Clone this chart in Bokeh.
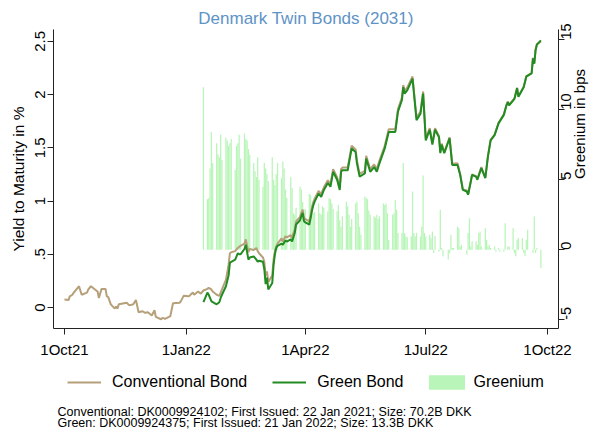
import math
import pandas as pd
from bokeh.plotting import figure
from bokeh.layouts import column
from bokeh.models import Range1d, LinearAxis, FixedTicker, Legend, LegendItem, Label
from bokeh.embed import file_html
from bokeh.resources import INLINE

FONT = "Liberation Sans"

# ---------------- data ----------------
early_conv_dates = [
    "2021-10-01", "2021-10-04", "2021-10-05", "2021-10-07", "2021-10-08", "2021-10-12",
    "2021-10-14", "2021-10-18", "2021-10-19", "2021-10-21", "2021-10-25", "2021-10-26",
    "2021-10-27", "2021-10-29", "2021-11-01", "2021-11-02", "2021-11-03", "2021-11-05",
    "2021-11-08", "2021-11-09", "2021-11-10", "2021-11-11", "2021-11-15", "2021-11-17",
    "2021-11-19", "2021-11-22", "2021-11-24", "2021-11-26", "2021-11-29", "2021-12-01",
    "2021-12-03", "2021-12-06", "2021-12-08", "2021-12-09", "2021-12-13", "2021-12-14",
    "2021-12-16", "2021-12-20", "2021-12-22", "2021-12-27", "2021-12-28", "2021-12-30",
    "2022-01-03", "2022-01-05", "2022-01-06", "2022-01-07", "2022-01-10", "2022-01-12",
]
early_conv_yield = [
    0.075, 0.07, 0.105, 0.12, 0.14, 0.20,
    0.12, 0.14, 0.17, 0.20, 0.16, 0.15,
    0.09, 0.175, 0.175, 0.105, 0.10, 0.03,
    -0.01, 0.01, -0.01, 0.03, 0.04, 0.045,
    0.02, 0.03, 0.07, -0.045, -0.035, -0.05,
    -0.045, -0.075, -0.025, -0.087, -0.11, -0.097,
    -0.106, -0.08, 0.04, 0.045, 0.06, 0.11,
    0.105, 0.13, 0.14, 0.12, 0.15, 0.13,
]

twin_dates = [
    "2022-01-14", "2022-01-17", "2022-01-18", "2022-01-20", "2022-01-21", "2022-01-24",
    "2022-01-26", "2022-01-27", "2022-01-28", "2022-01-31", "2022-02-02", "2022-02-03",
    "2022-02-04", "2022-02-07", "2022-02-09", "2022-02-10", "2022-02-11", "2022-02-14",
    "2022-02-15", "2022-02-17", "2022-02-18", "2022-02-21", "2022-02-23", "2022-02-24",
    "2022-02-25", "2022-02-28", "2022-03-01", "2022-03-02", "2022-03-03", "2022-03-04",
    "2022-03-07", "2022-03-08", "2022-03-09", "2022-03-10", "2022-03-11", "2022-03-14",
    "2022-03-15", "2022-03-17", "2022-03-18", "2022-03-21", "2022-03-22", "2022-03-23",
    "2022-03-24", "2022-03-25", "2022-03-28", "2022-03-29", "2022-03-30", "2022-03-31",
    "2022-04-01", "2022-04-04", "2022-04-05", "2022-04-06", "2022-04-07", "2022-04-08",
    "2022-04-11", "2022-04-13", "2022-04-15", "2022-04-18", "2022-04-20", "2022-04-22",
    "2022-04-25", "2022-04-27", "2022-04-28", "2022-04-29", "2022-05-03", "2022-05-06",
    "2022-05-09", "2022-05-10", "2022-05-12", "2022-05-16", "2022-05-17", "2022-05-20",
    "2022-05-23", "2022-05-25", "2022-05-27", "2022-05-31", "2022-06-03", "2022-06-08",
    "2022-06-10", "2022-06-13", "2022-06-14", "2022-06-15", "2022-06-17", "2022-06-21",
    "2022-06-24", "2022-06-27", "2022-06-29", "2022-07-01", "2022-07-04", "2022-07-06",
    "2022-07-08", "2022-07-11", "2022-07-12", "2022-07-13", "2022-07-15", "2022-07-19",
    "2022-07-21", "2022-07-25", "2022-07-27", "2022-07-29", "2022-08-01", "2022-08-02",
    "2022-08-04", "2022-08-05", "2022-08-08", "2022-08-09", "2022-08-12", "2022-08-15",
    "2022-08-17", "2022-08-19", "2022-08-22", "2022-08-25", "2022-08-29", "2022-08-31",
    "2022-09-01", "2022-09-02", "2022-09-06", "2022-09-08", "2022-09-09", "2022-09-13",
    "2022-09-15", "2022-09-19", "2022-09-20", "2022-09-21", "2022-09-22", "2022-09-23",
    "2022-09-26",
]
late_conv_yield = [
    0.16, 0.175, 0.185, 0.17, 0.15, 0.12,
    0.11, 0.14, 0.17, 0.26, 0.40, 0.51,
    0.52, 0.53, 0.56, 0.57, 0.58, 0.60,
    0.64, 0.52, 0.55, 0.54, 0.56, 0.53,
    0.51, 0.47, 0.43, 0.30, 0.34, 0.24,
    0.30, 0.45, 0.53, 0.575, 0.60, 0.65,
    0.62, 0.67, 0.66, 0.68, 0.65, 0.70,
    0.73, 0.81, 0.85, 0.89, 0.92, 0.84,
    0.83, 0.81, 0.87, 0.94, 0.99, 1.02,
    1.095, 1.065, 1.13, 1.195, 1.16, 1.30,
    1.225, 1.13, 1.30, 1.315, 1.315, 1.52,
    1.485, 1.38, 1.255, 1.285, 1.425, 1.30,
    1.345, 1.30, 1.38, 1.52, 1.675, 1.675,
    1.865, 1.975, 2.09, 2.035, 2.065, 2.17,
    1.785, 1.84, 2.03, 1.59, 1.685, 1.545,
    1.685, 1.61, 1.465, 1.54, 1.46, 1.60,
    1.35, 1.355, 1.255, 1.11, 1.10, 1.065,
    1.19, 1.25, 1.235, 1.21, 1.32, 1.22,
    1.425, 1.575, 1.625, 1.735, 1.815, 1.905,
    1.935, 1.905, 1.965, 2.065, 1.985, 2.075,
    2.175, 2.205, 2.345, 2.295, 2.425, 2.475,
    2.50,
]
green_yield = [
    0.05, 0.14, 0.12, 0.06, 0.05, 0.03,
    0.05, 0.09, 0.12, 0.20, 0.30, 0.42,
    0.43, 0.45, 0.51, 0.50, 0.50, 0.55,
    0.59, 0.45, 0.47, 0.48, 0.45, 0.43,
    0.44, 0.43, 0.36, 0.22, 0.28, 0.17,
    0.23, 0.40, 0.50, 0.56, 0.58, 0.60,
    0.59, 0.63, 0.62, 0.64, 0.62, 0.66,
    0.70, 0.78, 0.82, 0.86, 0.89, 0.81,
    0.80, 0.78, 0.84, 0.91, 0.96, 0.995,
    1.07, 1.04, 1.105, 1.17, 1.135, 1.275,
    1.20, 1.105, 1.275, 1.29, 1.29, 1.495,
    1.46, 1.355, 1.23, 1.26, 1.40, 1.275,
    1.32, 1.275, 1.355, 1.495, 1.65, 1.65,
    1.84, 1.95, 2.07, 2.01, 2.04, 2.15,
    1.76, 1.82, 2.01, 1.57, 1.67, 1.53,
    1.67, 1.60, 1.45, 1.53, 1.45, 1.59,
    1.34, 1.34, 1.245, 1.105, 1.09, 1.06,
    1.18, 1.245, 1.23, 1.20, 1.31, 1.215,
    1.42, 1.57, 1.62, 1.73, 1.81, 1.90,
    1.93, 1.90, 1.96, 2.06, 1.98, 2.07,
    2.17, 2.20, 2.34, 2.29, 2.42, 2.47,
    2.51,
]

# greenium in bps, one value per business day from 14 Jan 2022 to 26 Sep 2022
greenium_start, greenium_end = "2022-01-14", "2022-09-26"
greenium_bps = [
    11.6,
    3.6, 3.7, 5.8, 8.4, 6.2,
    7.6, 6.8, 6.6, 8.2, 6.4,
    8.0, 7.8, 7.4, 7.6, 7.9,
    5.7, 7.4, 7.6, 8.2, 6.5,
    8.3, 7.9, 7.8, 7.2, 6.8,
    6.2, 5.6, 5.2, 6.6, 5.0,
    4.5, 6.2, 5.8, 5.4, 4.9,
    6.6, 5.0, 4.6, 5.4, 6.2,
    5.1, 6.3, 5.8, 4.3, 3.7,
    5.2, 4.4, 2.6, 2.5, 3.0,
    4.5, 4.3, 3.4, 2.85, 2.9,
    4.0, 3.9, 3.2, 2.6, 2.7,
    3.3, 2.6, 2.5, 3.1, 3.0,
    2.75, 3.7, 3.6, 3.3, 2.9,
    2.75, 3.2, 2.1, 1.65, 2.4,
    3.45, 3.1, 2.5, 1.65, 2.2,
    3.3, 3.45, 2.6, 1.65, 1.07,
    3.8, 3.7, 3.6, 2.8, 2.5,
    2.4, 2.3, 2.5, 2.2, 2.4,
    3.3, 3.2, 3.3, 2.6, 0.7,
    2.5, 2.6, 3.55, 2.85, 1.2,
    1.2, 6.2, 1.2, 0.95, 0.9,
    0.95, 4.15, 1.2, 0.95, 1.2,
    0.95, 1.65, 5.3, 1.2, 0.95,
    1.07, 0.83, 1.3, -0.24, 1.0,
    -0.12, 2.85, 0.12, -0.47, 0.0,
    -0.7, -0.24, 1.07, 0.12, 0.12,
    1.65, 1.54, 0.24, 0.36, 0.0,
    -0.35, 1.2, 2.25, 0.24, 0.6,
    0.6, 0.36, 1.2, 1.3, 0.24,
    1.54, 0.71, 0.24, 0.36, 0.12,
    0.24, -0.12, 0.0, 0.12, -0.12,
    -0.12, 1.9, 0.0, 0.24, 0.24,
    1.54, -0.24, -0.47, 0.71, 0.83,
    0.83, -0.24, -0.47, 0.71, 1.42,
    0.0, -0.24, 2.37, -0.24, 0.12,
    -1.3,
]

x_tick_dates = ["2021-10-01", "2022-01-01", "2022-04-01", "2022-07-01", "2022-10-01"]
x_tick_labels = ["1Oct21", "1Jan22", "1Apr22", "1Jul22", "1Oct22"]
left_ticks = [0, 0.5, 1, 1.5, 2, 2.5]
left_tick_labels = ["0", ".5", "1", "1.5", "2", "2.5"]
right_ticks = [-5, 0, 5, 10, 15]
right_tick_labels = ["-5", "0", "5", "10", "15"]

title_text = "Denmark Twin Bonds (2031)"
legend_labels = ["Conventional Bond", "Green Bond", "Greenium"]
note_lines = [
    "Conventional: DK0009924102; First Issued: 22 Jan 2021; Size: 70.2B DKK",
    "Green: DK0009924375; First Issued: 21 Jan 2022; Size: 13.3B DKK",
]

# ---------------- styling ----------------
TAN = "#b5a07a"
GREEN = "#228b22"
BAR = "#b9f5b9"
AXIS = "#222222"
W = 599
H_TOP = 360
H_BOT = 75
FRAME_LEFT = 53   # the strip below shares the frame alignment of the main plot

conv_x = pd.to_datetime(early_conv_dates + twin_dates)
conv_y = early_conv_yield + late_conv_yield
green_x = pd.to_datetime(twin_dates)
gr_x = pd.bdate_range(greenium_start, greenium_end)

origin = pd.Timestamp("2021-10-01")
x_start = origin - pd.Timedelta(days=8.3)
x_end = origin + pd.Timedelta(days=373.3)

p = figure(width=W, height=H_TOP, x_axis_type="datetime",
           x_range=Range1d(x_start, x_end), y_range=Range1d(-0.197, 2.612),
           output_backend="svg", toolbar_location=None,
           min_border_left=FRAME_LEFT, min_border_right=40, min_border_top=29, min_border_bottom=31)
p.extra_y_ranges = {"gr": Range1d(-5.62, 15.72)}

p.title.text = title_text
p.title.align = "center"
p.title.text_font = FONT
p.title.text_font_size = "17px"
p.title.text_font_style = "normal"
p.title.text_color = "#5e93c6"
p.title.standoff = 4

p.xgrid.visible = False
p.ygrid.visible = False
p.outline_line_color = None
p.background_fill_color = "white"
p.border_fill_color = "white"

r_bar = p.vbar(x=gr_x, top=greenium_bps, bottom=0, width=86400000 * 0.95,
               y_range_name="gr", fill_color=BAR, line_color=None)
r_conv = p.line(conv_x, conv_y, line_color=TAN, line_width=2)
r_green = p.line(green_x, green_yield, line_color=GREEN, line_width=2)

# x axis
xa = p.xaxis[0]
x_tick_ms = [float(pd.Timestamp(d).value // 10**6) for d in x_tick_dates]
xa.ticker = FixedTicker(ticks=x_tick_ms)
xa.major_label_overrides = {t: l for t, l in zip(x_tick_ms, x_tick_labels)}
xa.minor_tick_line_color = None
xa.major_tick_out = 6
xa.major_tick_in = 0
xa.major_label_standoff = 6
xa.major_label_text_font = FONT
xa.major_label_text_font_size = "15px"
xa.major_label_text_color = "#000000"
xa.axis_line_color = AXIS
xa.major_tick_line_color = AXIS

# left axis
ya = p.yaxis[0]
ya.ticker = FixedTicker(ticks=left_ticks)
ya.major_label_overrides = {t: l for t, l in zip(left_ticks, left_tick_labels)}
ya.major_label_orientation = "vertical"
ya.minor_tick_line_color = None
ya.major_tick_out = 6
ya.major_tick_in = 0
ya.major_label_standoff = 2
ya.major_label_text_font = FONT
ya.major_label_text_font_size = "15px"
ya.major_label_text_color = "#000000"
ya.axis_label = "Yield to Maturity in %"
ya.axis_label_standoff = 6
ya.axis_label_text_font = FONT
ya.axis_label_text_font_size = "15.5px"
ya.axis_label_text_font_style = "normal"
ya.axis_label_text_color = "#000000"
ya.axis_line_color = AXIS
ya.major_tick_line_color = AXIS

# right axis
ra = LinearAxis(y_range_name="gr")
ra.ticker = FixedTicker(ticks=right_ticks)
ra.major_label_overrides = {t: l for t, l in zip(right_ticks, right_tick_labels)}
ra.major_label_orientation = math.pi / 2
ra.minor_tick_line_color = None
ra.major_tick_out = 6
ra.major_tick_in = 0
ra.major_label_standoff = 2
ra.major_label_text_font = FONT
ra.major_label_text_font_size = "14.5px"
ra.major_label_text_color = "#000000"
ra.axis_label = "Greenium in bps"
ra.axis_label_orientation = math.pi / 2
ra.axis_label_standoff = 0
ra.axis_label_text_font = FONT
ra.axis_label_text_font_size = "15px"
ra.axis_label_text_font_style = "normal"
ra.axis_label_text_color = "#000000"
ra.axis_line_color = AXIS
ra.major_tick_line_color = AXIS
p.add_layout(ra, "right")

# ---------------- legend + notes strip ----------------
q = figure(width=W, height=H_BOT, x_range=Range1d(0, 1), y_range=Range1d(0, 1),
           output_backend="svg", toolbar_location=None,
           x_axis_location=None, y_axis_location=None,
           min_border_left=0, min_border_right=0, min_border_top=0, min_border_bottom=0)
q.xgrid.visible = False
q.ygrid.visible = False
q.outline_line_color = None
q.background_fill_color = "white"
q.border_fill_color = "white"

# legend proxies (no visible data: NaN placeholders only carry the styles)
nan = float("nan")
k_conv = q.line(x=[nan], y=[nan], line_color=TAN, line_width=2)
k_green = q.line(x=[nan], y=[nan], line_color=GREEN, line_width=2)
k_bar = q.vbar(x=[nan], top=[nan], width=0.01, fill_color=BAR, line_color=None)

leg_common = dict(orientation="horizontal", padding=0, margin=0, border_line_color=None,
                  background_fill_alpha=0, label_text_font=FONT, label_text_font_size="16px",
                  label_text_color="#000000", label_height=18)
leg1 = Legend(items=[LegendItem(label=legend_labels[0], renderers=[k_conv]),
                     LegendItem(label=legend_labels[1], renderers=[k_green])],
              location=(67 - FRAME_LEFT, 44.5), glyph_width=34, glyph_height=14,
              label_standoff=11, spacing=25, **leg_common)
leg2 = Legend(items=[LegendItem(label=legend_labels[2], renderers=[k_bar])],
              location=(423.5 - FRAME_LEFT, 44.5), glyph_width=45, glyph_height=18,
              label_standoff=5, spacing=0, **leg_common)
q.add_layout(leg1, "center")
q.add_layout(leg2, "center")

for txt, yy in zip(note_lines, [24, 12.5]):
    q.add_layout(Label(x=57 - FRAME_LEFT, y=yy, x_units="screen", y_units="screen", text=txt,
                       text_font=FONT, text_font_size="12.5px", text_baseline="middle",
                       text_color="#000000"))

layout = column(p, q, spacing=0)
open("out.html", "w").write(file_html(layout, INLINE))
